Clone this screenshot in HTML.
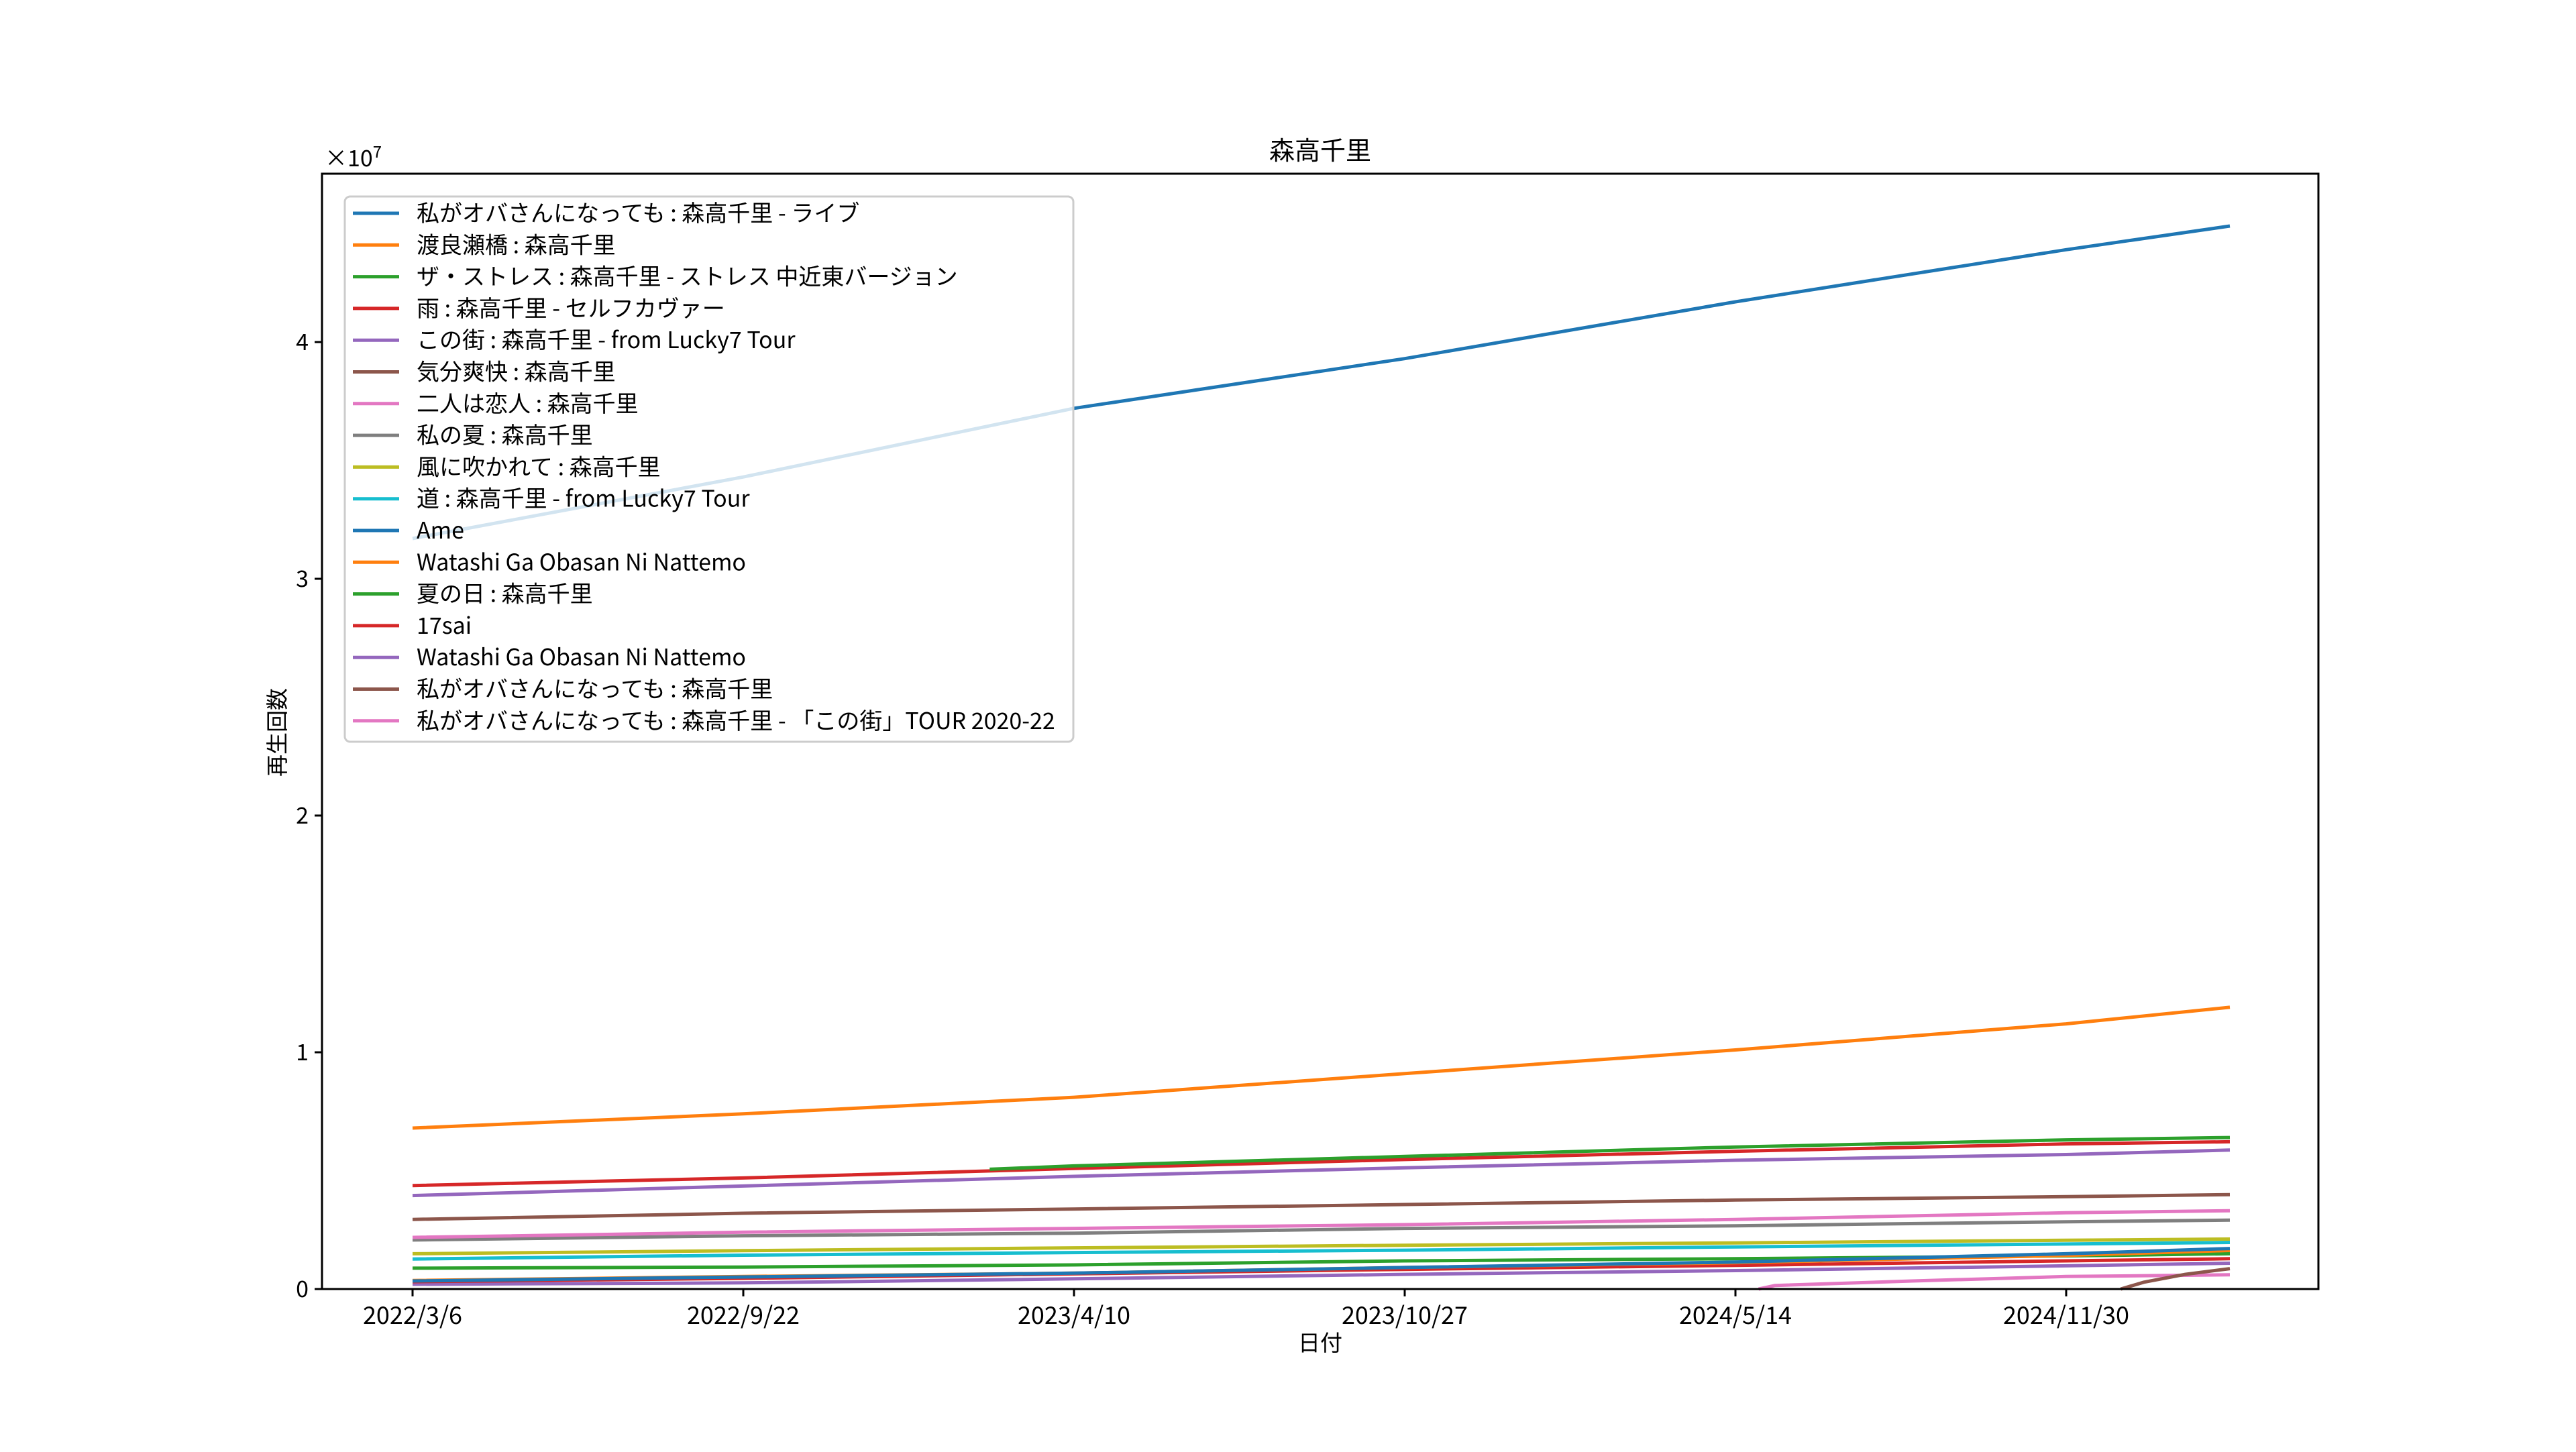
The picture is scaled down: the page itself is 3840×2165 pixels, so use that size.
<!DOCTYPE html>
<html><head><meta charset="utf-8">
<style>
html,body{margin:0;padding:0;background:#fff;}
svg text{font-family:"Noto Sans CJK JP","Liberation Sans",sans-serif;fill:#000;}
</style></head>
<body>
<svg id="chart" width="3840" height="2160" viewBox="0 0 3840 2160" xmlns="http://www.w3.org/2000/svg">
<rect x="0" y="0" width="3840" height="2160" fill="#fff"/>
<text x="1968" y="238" font-size="38" text-anchor="middle">森高千里</text>
<text x="0" y="0" font-size="33" text-anchor="middle" transform="translate(425,1092) rotate(-90)">再生回数</text>
<text x="1968" y="2014" font-size="33" text-anchor="middle">日付</text>
<text x="484" y="248" font-size="34">×10<tspan font-size="24" dy="-13">7</tspan></text>
<g id="plot"></g>
<g id="axes"></g>
<g id="legend"></g>
</svg>
<script>
const tickDays = [0, 200, 400, 600, 800, 1000];
const tickLabels = ["2022/3/6", "2022/9/22", "2023/4/10", "2023/10/27", "2024/5/14", "2024/11/30"];
const yTicks = [0, 1, 2, 3, 4];
const seriesNames = ["私がオバさんになっても : 森高千里 - ライブ","渡良瀬橋 : 森高千里","ザ・ストレス : 森高千里 - ストレス 中近東バージョン","雨 : 森高千里 - セルフカヴァー","この街 : 森高千里 - from Lucky7 Tour","気分爽快 : 森高千里","二人は恋人 : 森高千里","私の夏 : 森高千里","風に吹かれて : 森高千里","道 : 森高千里 - from Lucky7 Tour","Ame","Watashi Ga Obasan Ni Nattemo","夏の日 : 森高千里","17sai","Watashi Ga Obasan Ni Nattemo","私がオバさんになっても : 森高千里","私がオバさんになっても : 森高千里 - 「この街」TOUR 2020-22"];
const seriesColors = ["#1f77b4","#ff7f0e","#2ca02c","#d62728","#9467bd","#8c564b","#e377c2","#7f7f7f","#bcbd22","#17becf","#1f77b4","#ff7f0e","#2ca02c","#d62728","#9467bd","#8c564b","#e377c2"];
const stdDays = [0, 200, 400, 600, 800, 1000, 1099];
const s0 = [3.17, 3.43, 3.72, 3.93, 4.17, 4.39, 4.49];
const s1 = [0.68, 0.74, 0.81, 0.91, 1.01, 1.12, 1.19];
const s2Days = [349, 400, 600, 800, 1000, 1099];
const s2 = [0.506, 0.52, 0.56, 0.60, 0.63, 0.64];
const s3 = [0.437, 0.469, 0.509, 0.547, 0.582, 0.613, 0.622];
const s4 = [0.395, 0.435, 0.476, 0.512, 0.544, 0.568, 0.587];
const s5 = [0.294, 0.320, 0.338, 0.357, 0.376, 0.390, 0.399];
const s6 = [0.218, 0.240, 0.256, 0.272, 0.294, 0.322, 0.331];
const s7 = [0.207, 0.225, 0.236, 0.256, 0.267, 0.284, 0.291];
const s8 = [0.149, 0.162, 0.174, 0.185, 0.195, 0.206, 0.211];
const s9 = [0.127, 0.143, 0.154, 0.164, 0.178, 0.190, 0.197];
const s10 = [0.034, 0.051, 0.067, 0.091, 0.114, 0.149, 0.171];
const s11 = [0.036, 0.053, 0.067, 0.091, 0.111, 0.142, 0.163];
const s12 = [0.088, 0.093, 0.102, 0.119, 0.128, 0.140, 0.149];
const s13 = [0.031, 0.045, 0.064, 0.083, 0.100, 0.119, 0.128];
const s14 = [0.020, 0.026, 0.043, 0.062, 0.078, 0.098, 0.109];
const s15Days = [1033, 1047, 1072, 1099];
const s15 = [0.0, 0.029, 0.062, 0.086];
const s16Days = [814, 824, 907, 1000, 1099];
const s16 = [0.0, 0.015, 0.034, 0.053, 0.060];

const allDays = [stdDays,stdDays,s2Days,stdDays,stdDays,stdDays,stdDays,stdDays,stdDays,stdDays,stdDays,stdDays,stdDays,stdDays,stdDays,s15Days,s16Days];
const allVals = [s0,s1,s2,s3,s4,s5,s6,s7,s8,s9,s10,s11,s12,s13,s14,s15,s16];

const L=480,R=3456,T=259,B=1922;
const X0=615, PXD=2.465, PY=353;
function xs(d){return X0 + d*PXD;}
function ys(v){return B - v*PY;}
const NS="http://www.w3.org/2000/svg";
function mk(tag, attrs, parent){const e=document.createElementNS(NS,tag);for(const k in attrs)e.setAttribute(k,attrs[k]);parent.appendChild(e);return e;}

const plot=document.getElementById('plot');
for(let i=allVals.length-1;i>=0;i--){
  const d=allDays[i], v=allVals[i];
  let p='';
  for(let j=0;j<v.length;j++){p+=(j?'L':'M')+xs(d[j]).toFixed(1)+','+ys(v[j]).toFixed(1);}
  const path=mk('path',{d:p,fill:'none',stroke:seriesColors[i],'stroke-width':5,'stroke-linejoin':'round'},plot);
  
  
}

const axes=document.getElementById('axes');
const frame=mk('rect',{x:L,y:T,width:R-L,height:B-T,fill:'none',stroke:'#000','stroke-width':3},axes);


for(let i=0;i<tickDays.length;i++){
  const x=xs(tickDays[i]);
  const t=mk('line',{x1:x,y1:B,x2:x,y2:B+11,stroke:'#000','stroke-width':3},axes);
  
  
  const lb=mk('text',{x:x,y:B+52,'font-size':36,'text-anchor':'middle'},axes);
  lb.textContent=tickLabels[i];
  
  
}
for(let i=0;i<yTicks.length;i++){
  const y=ys(yTicks[i]);
  const t=mk('line',{x1:L-11,y1:y,x2:L,y2:y,stroke:'#000','stroke-width':3},axes);
  
  
  const lb=mk('text',{x:L-20,y:y+12,'font-size':34,'text-anchor':'end'},axes);
  lb.textContent=String(yTicks[i]);
  
  
}

const lg=document.getElementById('legend');
const box=mk('rect',{x:514,y:293,width:1086,height:813,rx:8,fill:'#fff','fill-opacity':0.8,stroke:'#ccc','stroke-width':3},lg);


for(let i=0;i<seriesNames.length;i++){
  const y=318+i*47.3;
  const h=mk('line',{x1:526,y1:y,x2:595,y2:y,stroke:seriesColors[i],'stroke-width':5},lg);
  
  
  const t=mk('text',{x:621,y:y+12,'font-size':34},lg);
  t.textContent=seriesNames[i];
  
  
}
</script>
</body></html>
